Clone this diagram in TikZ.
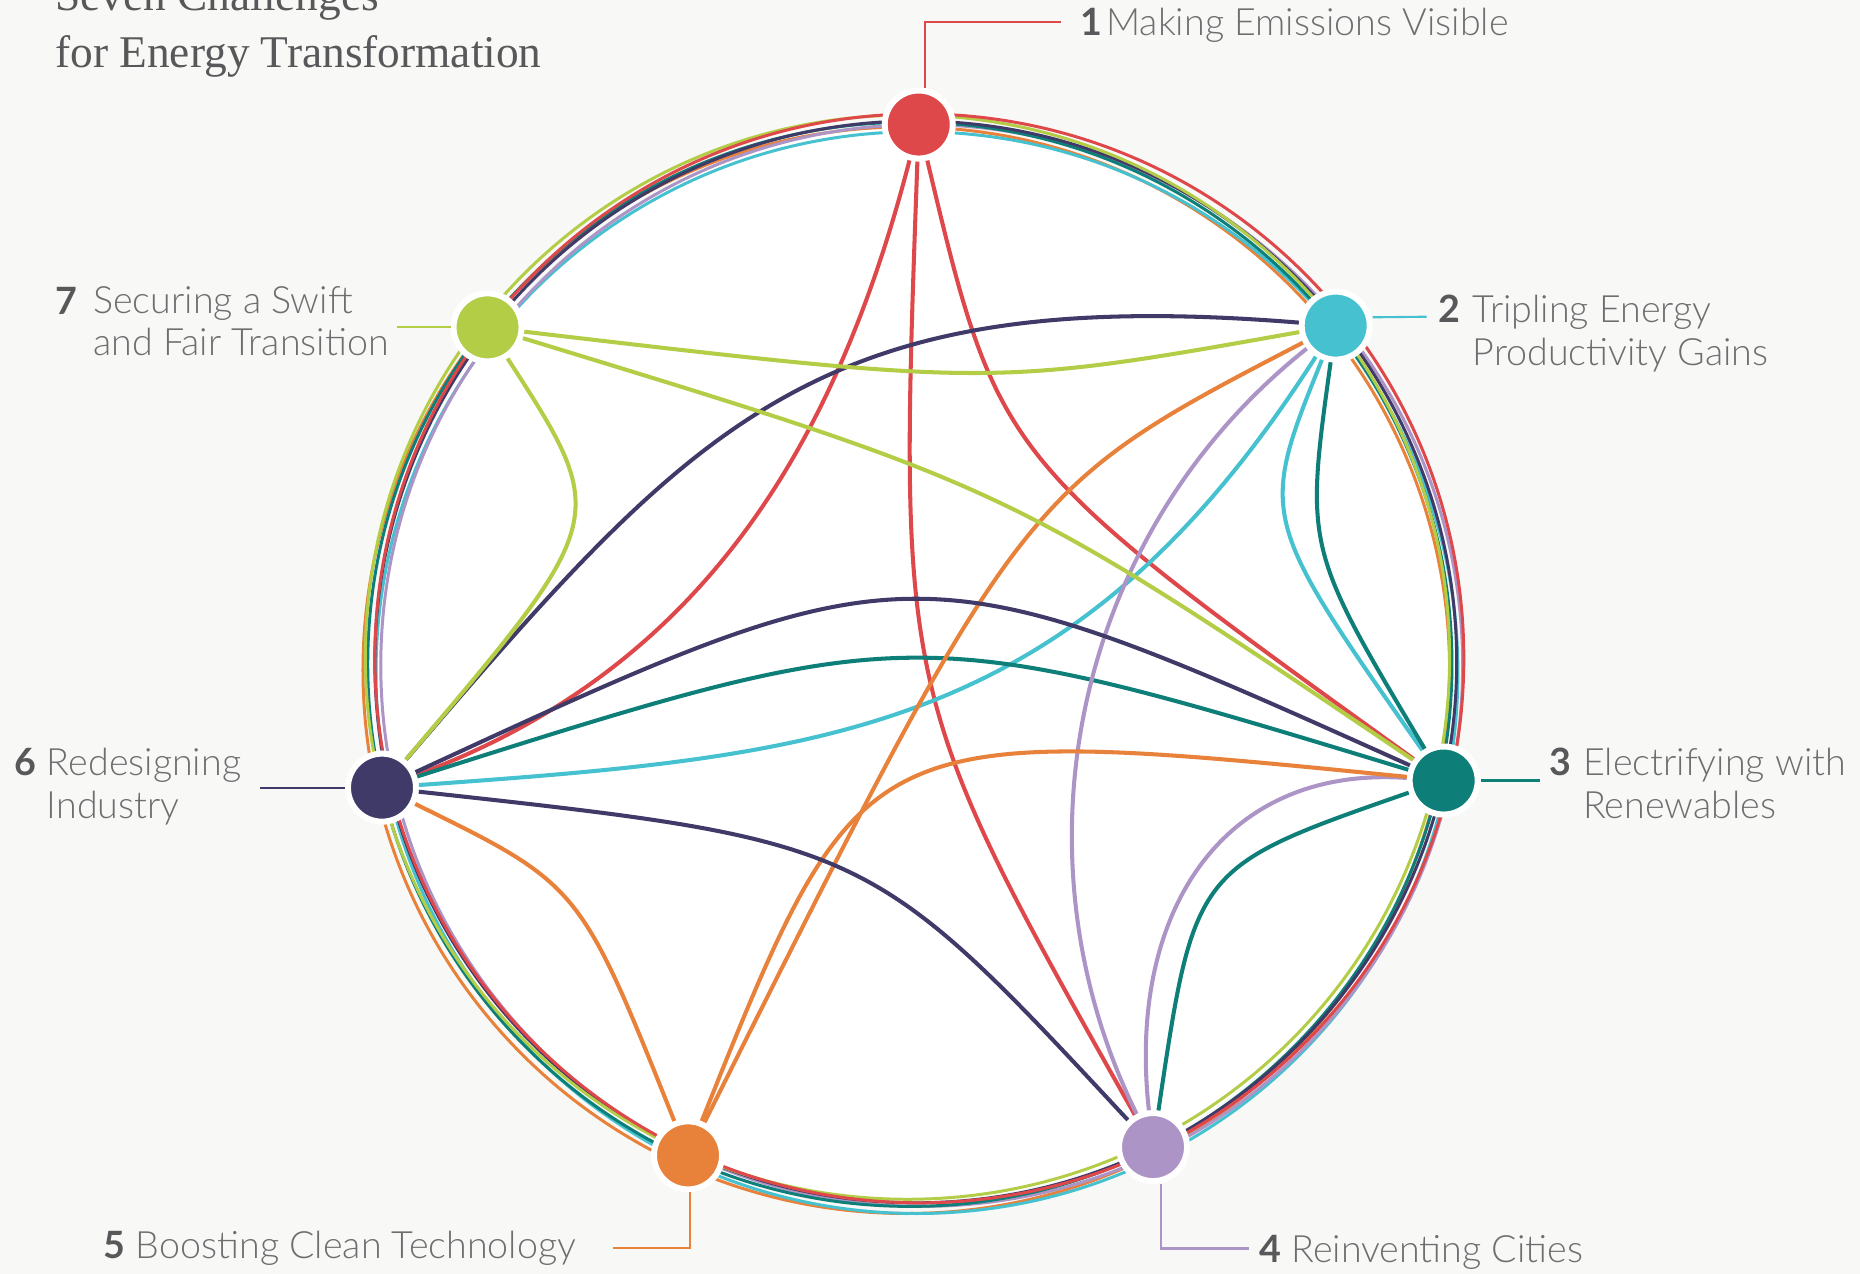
\documentclass[tikz,border=0pt]{standalone}
\usepackage{fontspec}
\setmainfont{Lato}
\newfontfamily\lightfont{Lato Light}
\newfontfamily\titlefont{Liberation Serif}
\definecolor{bgc}{HTML}{F8F8F6}
\definecolor{redc}{HTML}{DF484A}
\definecolor{cyanc}{HTML}{45C1D0}
\definecolor{tealc}{HTML}{0E7F78}
\definecolor{lavc}{HTML}{AD94C6}
\definecolor{orc}{HTML}{E8813A}
\definecolor{darkc}{HTML}{3F3A68}
\definecolor{limec}{HTML}{B3CD47}
\definecolor{numgray}{HTML}{58585A}
\definecolor{txtgray}{HTML}{6D6E70}

\begin{document}
\begin{tikzpicture}[x=0.011862cm, y=-0.011862cm,
    ring/.style={line width=0.85pt},
    chord/.style={line width=1.15pt},
    lead/.style={line width=0.6pt},
    spot/.style={circle, draw=white, line width=0.6mm, minimum size=6.8mm, inner sep=0pt},
    num/.style={anchor=base west, inner sep=0pt, text=numgray, font=\bfseries\fontsize{10.7}{12.1}\selectfont},
    txt/.style={anchor=base west, inner sep=0pt, align=left, text=txtgray, font=\lightfont\fontsize{10.7}{12.1}\selectfont}]
      \fill[bgc] (0,0) rectangle (1568,1074);
      \useasboundingbox (0,0) rectangle (1568,1074);
      \coordinate (O) at (770,560);
      \fill[white] (O) circle [radius=452];

      \draw[ring, orc] (764,565) circle [radius=458];
      \draw[ring, cyanc] (773,567) circle [radius=456];
      \draw[ring, lavc] (777,561) circle [radius=456];
      \draw[ring, tealc] (767,560) circle [radius=457];
      \draw[ring, darkc] (772,558) circle [radius=456];
      \draw[ring, limec] (765,554) circle [radius=457];
      \draw[ring, redc] (775,555) circle [radius=459];

      \node[spot, fill=redc] (n1) at (774.5,105) {};
      \node[spot, fill=cyanc] (n2) at (1126,274.5) {};
      \node[spot, fill=tealc] (n3) at (1217,658) {};
      \node[spot, fill=lavc] (n4) at (972,967) {};
      \node[spot, fill=orc] (n5) at (580,974) {};
      \node[spot, fill=darkc] (n6) at (322,664) {};
      \node[spot, fill=limec] (n7) at (411,276) {};

      \draw[chord, redc] (n1) .. controls (842,388) .. (n3);
      \draw[chord, redc] (n1) .. controls (757,586) .. (n4);
      \draw[chord, redc] (n1) .. controls (706,370) and (595,563) .. (n6);
      \draw[chord, cyanc] (n2) .. controls (906,618) and (702,637) .. (n6);
      \draw[chord, cyanc] (n2) .. controls (1061,436) .. (n3);
      \draw[chord, tealc] (n3) .. controls (1100,462) .. (n2);
      \draw[chord, tealc] (n3) .. controls (1007,731) .. (n4);
      \draw[chord, tealc] (n3) .. controls (770,522) .. (n6);
      \draw[chord, lavc] (n4) .. controls (850,720) and (905,450) .. (n2);
      \draw[chord, lavc] (n4) .. controls (950,770) and (1030,645) .. (n3);
      \draw[chord, orc] (n5) .. controls (861,412) .. (n2);
      \draw[chord, orc] (n5) .. controls (726,609) .. (n3);
      \draw[chord, orc] (n5) .. controls (489,746) .. (n6);
      \draw[chord, darkc] (n6) .. controls (588,354) and (689,239) .. (n2);
      \draw[chord, darkc] (n6) .. controls (770,457) .. (n3);
      \draw[chord, darkc] (n6) .. controls (732,709) .. (n4);
      \draw[chord, limec] (n7) .. controls (837,326) .. (n2);
      \draw[chord, limec] (n7) .. controls (850,410) .. (n3);
      \draw[chord, limec] (n7) .. controls (515,437) .. (n6);

      \node[anchor=base west, inner sep=0pt, align=left, text=numgray, font=\titlefont\fontsize{12.9}{16.2}\selectfont] (title) at (46,57) {Seven Challenges\\for Energy Transformation};

      \node[num] (k1) at (910,30) {1};
      \node[txt] (t1) at (932,30) {Making Emissions Visible};
      \node[num] (k2) at (1212,272) {2};
      \node[txt] (t2) at (1241,308) {Tripling Energy\\Productivity Gains};
      \node[num] (k3) at (1306,654) {3};
      \node[txt] (t3) at (1334,690) {Electrifying with\\Renewables};
      \node[num] (k4) at (1061,1064) {4};
      \node[txt] (t4) at (1088,1064) {Reinventing Cities};
      \node[num] (k5) at (87,1061) {5};
      \node[txt] (t5) at (114,1061) {Boosting Clean Technology};
      \node[num] (k6) at (12,654) {6};
      \node[txt] (t6) at (39,690) {Redesigning\\Industry};
      \node[num] (k7) at (46,265) {7};
      \node[txt] (t7) at (78,300) {Securing a Swift\\and Fair Transition};

      \draw[lead, redc] ([xshift=0.6mm]n1.north) |- ([xshift=-1.8mm]k1.west);
      \draw[lead, cyanc] (n2.east) ++(0,-7) -- ([xshift=-1.1mm]k2.west |- 0,267);
      \draw[lead, tealc] (n3.east) -- ([xshift=-0.9mm]n3.east -| k3.west);
      \draw[lead, lavc] ([xshift=0.8mm]n4.south) |- ([xshift=-1mm]k4.west);
      \draw[lead, orc] ([xshift=0.2mm]n5.south) |- ([xshift=3.6mm]t5.east);
      \draw[lead, darkc] (n6.west) -- ([xshift=1.8mm]n6.west -| t6.east);
      \draw[lead, limec] (n7.west) -- ([xshift=0.8mm]n7.west -| t7.east);
\end{tikzpicture}
\end{document}
